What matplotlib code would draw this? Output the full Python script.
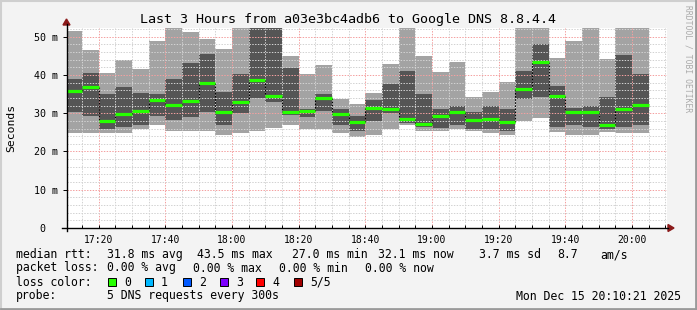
import numpy as np
import matplotlib
matplotlib.use('Agg')
import matplotlib.pyplot as plt
import matplotlib.ticker as ticker
from matplotlib.patches import Rectangle, Polygon
from matplotlib.lines import Line2D

# DATA (minutes after 17:00, one bar per 5 minute step, values in ms)
bar_start = [10, 15, 20, 25, 30, 35, 40, 45, 50, 55, 60, 65, 70, 75, 80, 85, 90, 95,
             100, 105, 110, 115, 120, 125, 130, 135, 140, 145, 150, 155, 160, 165, 170, 175, 180]
rtt_min = [24.8, 24.8, 24.8, 24.8, 26.0, 26.9, 25.4, 25.4, 25.4, 24.4, 24.8, 25.4, 26.1, 26.9,
           26.0, 26.0, 24.8, 23.9, 24.4, 26.0, 26.9, 25.4, 25.4, 26.0, 25.4, 24.8, 24.4, 28.0,
           28.7, 25.1, 24.4, 24.4, 25.2, 24.8, 24.8]
rtt_lo = [30.3, 29.3, 26.0, 26.4, 26.9, 29.4, 28.3, 29.0, 30.3, 26.9, 30.1, 34.0, 33.0, 29.5,
          29.0, 30.6, 26.9, 25.4, 27.9, 30.1, 27.5, 26.3, 26.1, 26.9, 26.0, 26.0, 25.4, 33.8,
          34.2, 26.4, 26.9, 26.4, 26.0, 26.4, 26.9]
rtt_median = [35.7, 36.8, 28.0, 29.8, 30.6, 33.5, 32.1, 33.3, 38.0, 30.4, 32.9, 38.7, 34.6, 30.3,
              30.7, 34.0, 29.7, 27.8, 31.4, 31.2, 28.6, 27.2, 29.3, 30.4, 28.1, 28.5, 27.6, 36.4,
              43.5, 34.6, 30.2, 30.3, 27.0, 31.2, 32.1]
rtt_hi = [38.9, 40.5, 35.0, 36.9, 35.2, 34.9, 38.9, 43.2, 45.5, 35.5, 40.3, 54.0, 54.0, 41.8,
          31.2, 35.0, 31.1, 29.3, 33.5, 37.6, 41.0, 35.0, 31.2, 32.0, 30.3, 31.9, 31.1, 41.0,
          48.2, 37.1, 31.3, 31.9, 34.2, 45.2, 40.3]
rtt_max = [51.6, 46.5, 40.5, 43.9, 41.5, 48.9, 55.0, 51.2, 49.4, 46.8, 55.0, 56.0, 56.0, 45.0,
           40.3, 42.6, 33.8, 32.4, 35.3, 42.9, 55.0, 45.0, 40.9, 43.5, 34.2, 35.5, 38.2, 55.0,
           55.0, 44.4, 49.0, 55.0, 44.2, 55.0, 55.0]

tick_pos = [20, 40, 60, 80, 100, 120, 140, 160, 180]
tick_labels = ['17:20', '17:40', '18:00', '18:20', '18:40', '19:00', '19:20', '19:40', '20:00']
ytick_pos = [0, 10, 20, 30, 40, 50]
ytick_labels = ['0  ', '10 m', '20 m', '30 m', '40 m', '50 m']

loss_names = ['0', '1', '2', '3', '4', '5/5']
loss_colors = ['#26ff00', '#00b8ff', '#0059ff', '#7e00ff', '#ff0000', '#a10000']

W, H = 697, 310
MONO = 'DejaVu Sans Mono'

def fx(px):
    return px / W

def fy(py):
    return 1 - py / H

fig = plt.figure(figsize=(W / 100, H / 100), dpi=100)
fig.patch.set_facecolor('#f3f3f3')

#PLOT AREA
ax = fig.add_axes([fx(66.5), fy(228), 600 / W, (228 - 27.7) / H])
ax.set_facecolor('white')
ax.set_xlim(10.35, 190.35)
ax.set_ylim(0, 52.35)

starts = np.array(bar_start, dtype=float)
lo = np.array(rtt_min)
hi = np.array(rtt_max)
ax.bar(starts, hi - lo, bottom=lo, width=5, align='edge', color='#a3a3a3', linewidth=0, zorder=1)
ax.bar(starts, np.array(rtt_hi) - np.array(rtt_lo), bottom=rtt_lo, width=5, align='edge',
       color='#555555', linewidth=0, zorder=1.1)

med = np.array(rtt_median)
ax.vlines(starts[1:], med[:-1], med[1:], colors='black', linestyles=(0, (1.4, 1.4)),
          linewidth=0.8, zorder=4)
ax.hlines(med, starts, starts + 5, colors='#26ff00', linewidth=2.3, zorder=5)

#GRID
ax.xaxis.set_major_locator(ticker.FixedLocator(tick_pos))
ax.xaxis.set_minor_locator(ticker.MultipleLocator(5))
ax.yaxis.set_major_locator(ticker.FixedLocator(ytick_pos))
ax.yaxis.set_minor_locator(ticker.MultipleLocator(2))
ax.set_xticklabels(tick_labels, fontfamily=MONO, fontsize=7)
ax.set_yticklabels(ytick_labels, fontfamily=MONO, fontsize=7.2)
ax.set_axisbelow(False)
ax.grid(which='minor', color='#d2d2d2', linestyle=(0, (1.4, 1.4)), linewidth=0.72, zorder=3)
ax.grid(which='major', color='#f4a0a0', linestyle=(0, (1.4, 1.4)), linewidth=0.72, zorder=3)
ax.tick_params(axis='x', which='both', direction='in', length=2, width=0.7, pad=5, colors='black')
ax.tick_params(axis='y', which='major', direction='out', length=3, width=0.7, pad=3)
ax.tick_params(axis='y', which='minor', length=0)
for s in ax.spines.values():
    s.set_visible(False)

#AXIS LINES AND ARROWS
fig.add_artist(Line2D([fx(62), fx(668)], [fy(228), fy(228)], color='black', lw=1))
fig.add_artist(Line2D([fx(66.5), fx(66.5)], [fy(231), fy(24)], color='black', lw=1))
fig.add_artist(Polygon([[fx(668), fy(224.5)], [fx(674), fy(228)], [fx(668), fy(231.5)]],
                       closed=True, color='#8b1a1a'))
fig.add_artist(Polygon([[fx(63), fy(25)], [fx(66.5), fy(19)], [fx(70), fy(25)]],
                       closed=True, color='#8b1a1a'))

#TEXTS
fig.text(fx(348), fy(19), 'Last 3 Hours from a03e3bc4adb6 to Google DNS 8.8.4.4',
         ha='center', va='center', fontfamily=MONO, fontsize=9.6)
fig.text(fx(11), fy(128), 'Seconds', rotation=90, ha='center', va='center',
         fontfamily=MONO, fontsize=8.2)
fig.text(fx(688), fy(5), 'RRDTOOL / TOBI OETIKER', rotation=-90, ha='center', va='top',
         fontfamily=MONO, fontsize=5.8, color='#aaaaaa')

fs = 8.3
row1 = [(16, 'median rtt:'), (107, '31.8 ms avg'), (197, '43.5 ms max'), (292, '27.0 ms min'),
        (378, '32.1 ms now'), (479, '3.7 ms sd'), (557, '8.7'), (600, 'am/s')]
for x, s in row1:
    fig.text(fx(x), fy(254.5), s, ha='left', va='center', fontfamily=MONO, fontsize=fs)
row2 = [(16, 'packet loss:'), (107, '0.00 % avg'), (193, '0.00 % max'), (279, '0.00 % min'),
        (365, '0.00 % now')]
for x, s in row2:
    fig.text(fx(x), fy(268), s, ha='left', va='center', fontfamily=MONO, fontsize=fs)
fig.text(fx(16), fy(282), 'loss color:', ha='left', va='center', fontfamily=MONO, fontsize=fs)
box_x = [108, 145, 183, 220, 256, 294]
for bx, name, col in zip(box_x, loss_names, loss_colors):
    fig.add_artist(Rectangle((fx(bx), fy(286)), 8 / W, 8 / H, facecolor=col,
                             edgecolor='black', linewidth=0.7))
    fig.text(fx(bx + 16), fy(282), name, ha='left', va='center', fontfamily=MONO, fontsize=fs)
fig.text(fx(16), fy(296), 'probe:', ha='left', va='center', fontfamily=MONO, fontsize=fs)
fig.text(fx(107), fy(296), '5 DNS requests every 300s', ha='left', va='center',
         fontfamily=MONO, fontsize=fs)
fig.text(fx(681), fy(296), 'Mon Dec 15 20:10:21 2025', ha='right', va='center',
         fontfamily=MONO, fontsize=fs)

#FRAME
fig.add_artist(Line2D([fx(0.5), fx(696.5)], [fy(0.5), fy(0.5)], color='#cfcfcf', lw=1.5))
fig.add_artist(Line2D([fx(0.5), fx(0.5)], [fy(0.5), fy(309.5)], color='#cfcfcf', lw=1.5))
fig.add_artist(Line2D([fx(0.5), fx(696.5)], [fy(309), fy(309)], color='#9a9a9a', lw=2))
fig.add_artist(Line2D([fx(696), fx(696)], [fy(0.5), fy(309.5)], color='#9a9a9a', lw=2))

fig.savefig('out.png', dpi=100, facecolor=fig.get_facecolor())
